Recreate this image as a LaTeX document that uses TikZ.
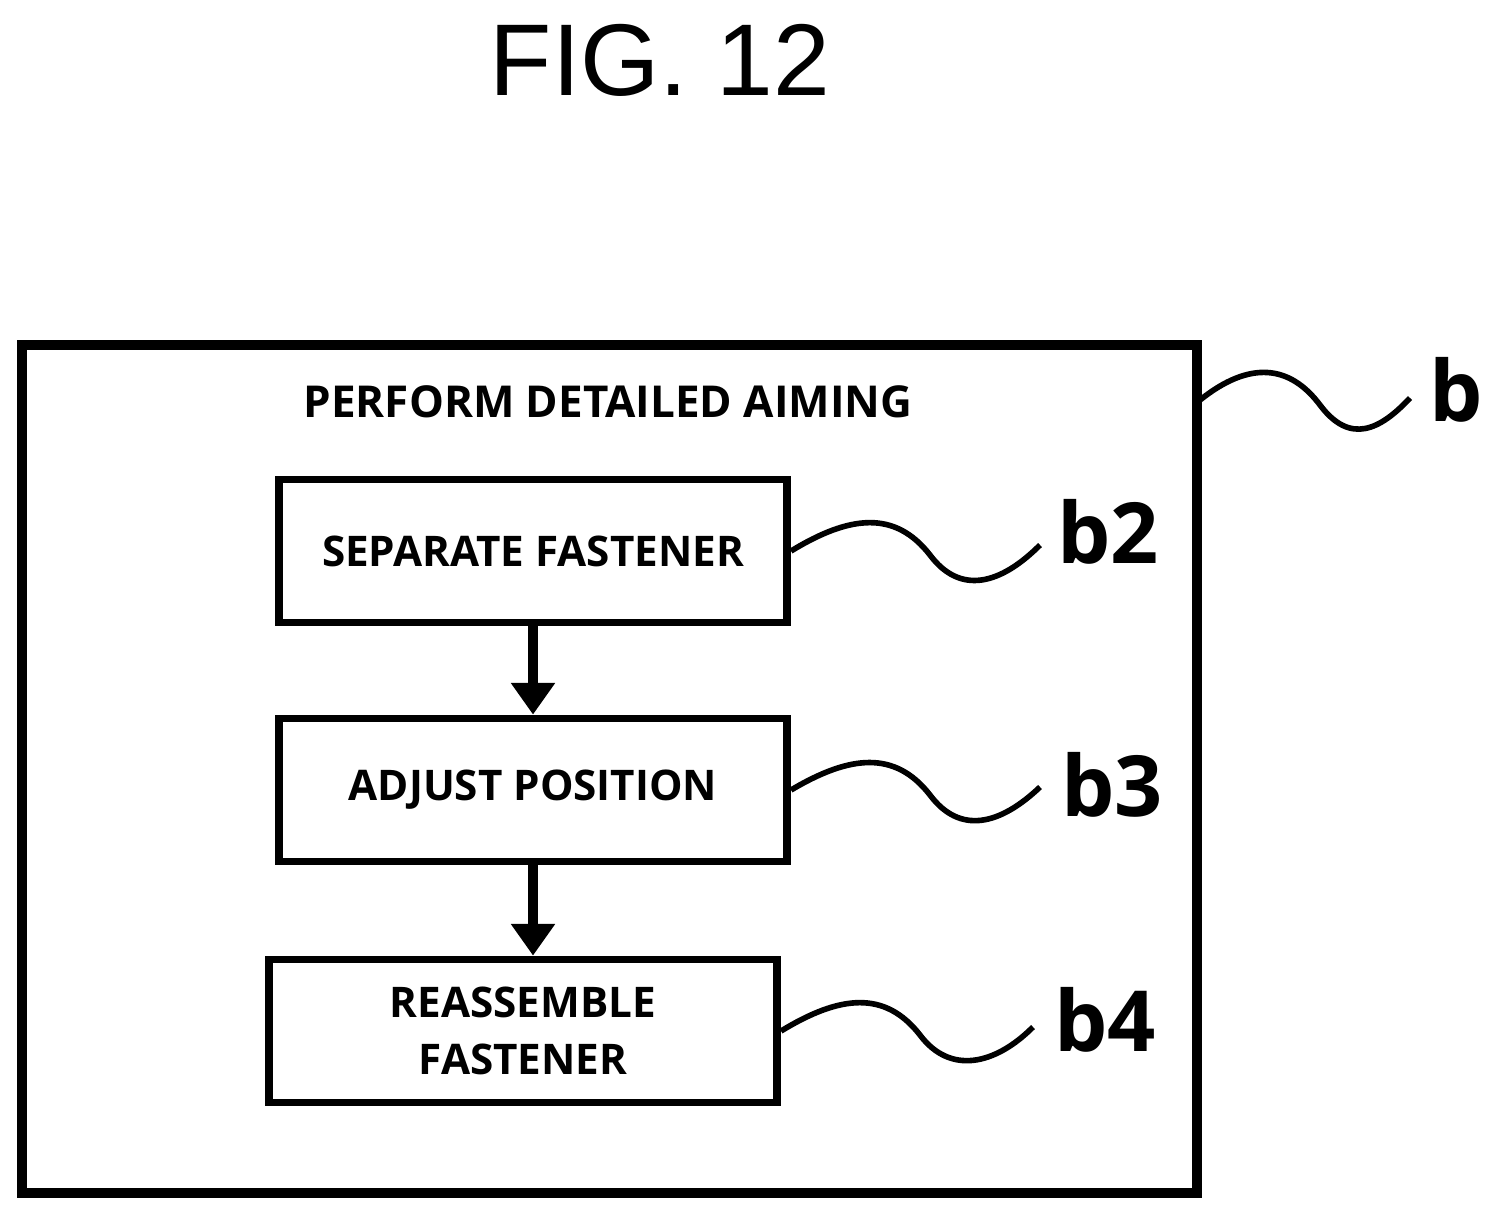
\documentclass[tikz,border=0pt]{standalone}
\usepackage{fontspec}
\setmainfont{Open Sans}
\newfontfamily\figfont{Liberation Sans}
\usetikzlibrary{arrows.meta}
\usetikzlibrary{positioning}
\begin{document}
\begin{tikzpicture}[x=0.01cm,y=-0.01cm]
\tikzset{stepbox/.style={rectangle,draw,line width=2.2pt,minimum width=5.08cm,minimum height=1.43cm,align=center,font=\fontsize{12}{16}\selectfont\bfseries},
refno/.style={font=\fontsize{24}{28}\selectfont\bfseries,inner sep=0pt},
wave/.style={line width=1.6pt}}
\useasboundingbox (0,0) rectangle (1498,1217);
\node[font=\figfont\fontsize{29}{34}\selectfont](fig) at (660,60){FIG. 12};
\draw[line width=2.6pt] (22,345) rectangle (1197,1193);
\coordinate (outer) at (1200,400);
\node[font=\fontsize{12.5}{16}\selectfont\bfseries](title) at (608,402){PERFORM DETAILED AIMING};
\node[stepbox](sep) at (533,551){SEPARATE FASTENER};
\node[stepbox](adj) at (533,790){ADJUST POSITION};
\node[stepbox](reas) at (523,1031){REASSEMBLE\\FASTENER};
\draw[line width=3pt,-{Triangle[length=9pt,width=12pt]}](sep) -- (adj);
\draw[line width=3pt,-{Triangle[length=9pt,width=12pt]}](adj.south) -- (adj.south |- reas.north);
\node[refno](b) at (1456,390){b};
\node[refno](b2) at (1108,532){b2};
\node[refno](b3) at (1112,785){b3};
\node[refno](b4) at (1105,1020){b4};
\draw[wave] (outer) .. controls (1250,360) and (1290,365) .. (1320,405) .. controls (1350,445) and (1380,430) .. (1410,398);
\draw[wave] (sep.east) .. controls (850,515) and (895,510) .. (930,555) .. controls (960,595) and (1000,585) .. (1040,545);
\draw[wave] (adj.east) .. controls (850,755) and (895,750) .. (930,795) .. controls (960,835) and (1000,825) .. (1040,787);
\draw[wave] (reas.east) .. controls (840,995) and (885,990) .. (920,1035) .. controls (950,1075) and (995,1065) .. (1033,1027);
\end{tikzpicture}
\end{document}
